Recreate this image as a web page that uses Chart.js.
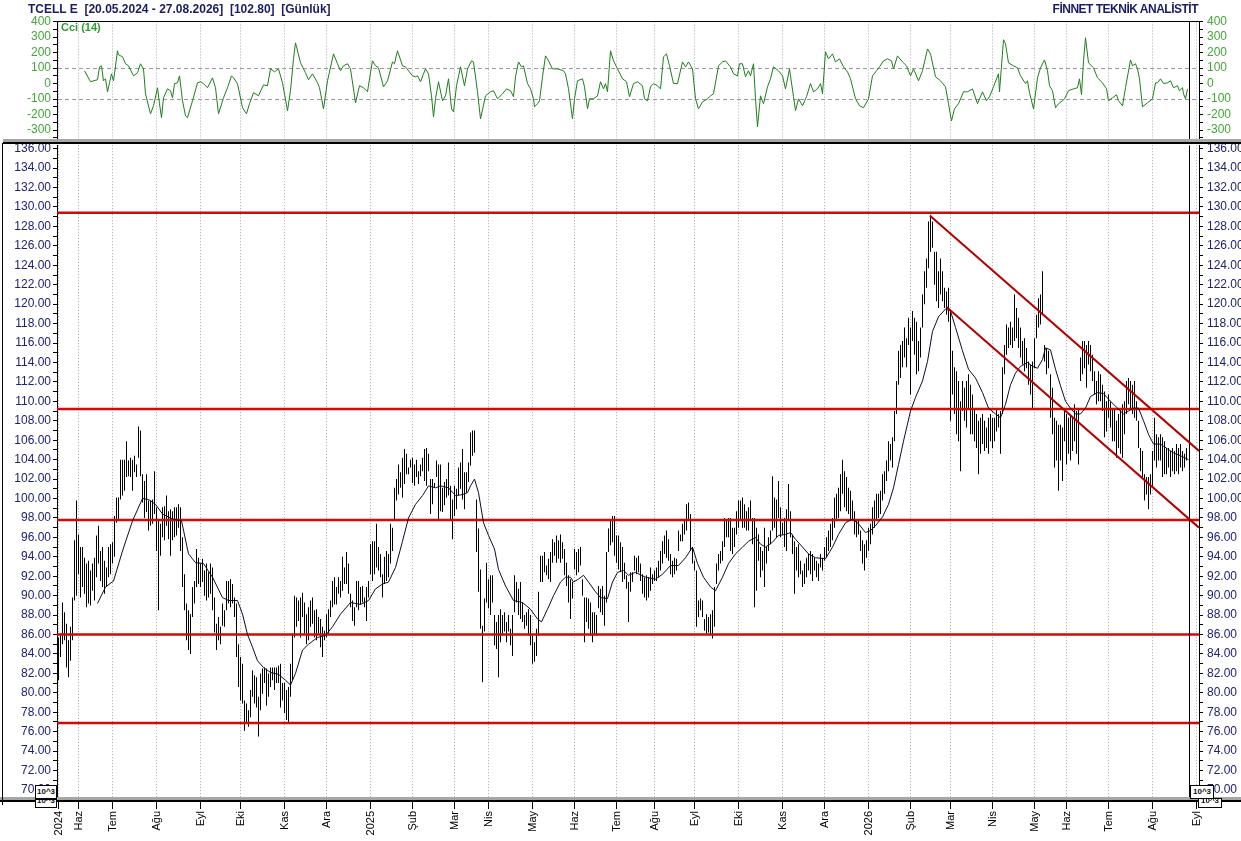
<!DOCTYPE html>
<html lang="tr">
<head>
<meta charset="UTF-8">
<title>TCELL E - Günlük</title>
<script src="https://cdn.jsdelivr.net/npm/chart.js"></script>
<style>
  body { margin: 0; background: #fff; font-family: "Liberation Sans", Arial, sans-serif; }
  #wrap { position: relative; width: 1241px; height: 841px; overflow: hidden; }
  canvas { position: absolute; left: 0; }
  .hdr { position: absolute; top: 2px; font-weight: bold; font-size: 12px; color: #1b1d62; white-space: pre; }
  .ln { position: absolute; }
  .box { position: absolute; border: 1px solid #000; background: #fff; font-size: 8px; font-weight: bold;
         line-height: 11px; text-align: center; overflow: hidden; color: #111; }
</style>
</head>
<body>
<div id="wrap">
  <canvas id="cciChart" width="1241" height="151" style="top:0"></canvas>
  <canvas id="priceChart" width="1241" height="707" style="top:134px"></canvas>

  <div class="hdr" style="left:28px">TCELL E  [20.05.2024 - 27.08.2026]  [102.80]  [Günlük]</div>
  <div class="hdr" style="right:43px;letter-spacing:-0.5px">FİNNET TEKNİK ANALİSTİT</div>
  <div class="hdr" style="left:61px;top:21px;font-size:11px;color:#2f9c2f">Cci (14)</div>

  <div class="ln" style="left:57px;top:21px;width:1142px;height:1px;background:#000"></div>
  <div class="ln" style="left:3px;top:139px;width:1238px;height:3px;background:#a6a6a6"></div>
  <div class="ln" style="left:3px;top:142px;width:1238px;height:2px;background:#000"></div>
  <div class="ln" style="left:0;top:797px;width:1241px;height:3px;background:#a6a6a6"></div>
  <div class="ln" style="left:0;top:800px;width:1241px;height:2px;background:#000"></div>
  <div class="ln" style="left:2px;top:143px;width:1px;height:662px;background:#000"></div>

  <div class="box" style="left:35px;top:785px;width:20px;height:12px">10^3</div>
  <div class="box" style="left:35px;top:799px;width:20px;height:7px;line-height:2px">10^3</div>
  <div class="box" style="left:1190px;top:785px;width:22px;height:12px">10^3</div>
  <div class="box" style="left:1198px;top:798px;width:22px;height:8px;line-height:3px">10^3</div>
</div>

<script>
  // month ticks (trading-day index) and their labels
  const monthTicks = [0, 10, 27, 49, 71, 91, 113, 134, 156, 177, 198, 215, 237, 258, 279, 298, 318, 340, 362, 383,
                      405, 426, 446, 467, 488, 504, 525, 547, 569];
  const monthLabels = ['2024', 'Haz', 'Tem', 'Ağu', 'Eyl', 'Eki', 'Kas', 'Ara', '2025', 'Şub', 'Mar', 'Nis', 'May',
                       'Haz', 'Tem', 'Ağu', 'Eyl', 'Eki', 'Kas', 'Ara', '2026', 'Şub', 'Mar', 'Nis', 'May', 'Haz',
                       'Tem', 'Ağu', 'Eyl'];

  // daily highs / lows, one per trading day
  const highs = [
    85.7,86.1,89.3,88.3,87.1,85.4,86.8,89.8,95.7,99.8, 96.3,95.0,95.0,93.9,93.3,93.6,92.6,93.3,93.9,96.2,
    97.2,94.6,95.0,93.6,92.9,95.0,95.3,95.5,98.2,100.1, 100.1,104.0,104.0,104.0,105.9,103.9,104.2,104.0,104.4,103.5,
    107.4,107.0,102.5,101.8,102.5,99.8,99.8,99.9,102.8,99.1, 97.7,97.4,99.1,99.2,100.3,98.7,98.9,98.7,99.1,99.1,
    99.4,99.1,96.0,92.2,89.2,88.5,88.1,90.9,91.5,94.8, 93.9,93.3,93.8,92.6,93.3,92.4,93.3,92.9,89.8,87.1,
    87.8,86.8,89.2,88.5,91.5,91.5,91.7,91.2,89.8,89.2, 85.0,83.7,83.0,79.2,78.9,78.2,80.3,82.3,
    81.8,81.6,79.6,82.0,82.5,82.6,82.5,82.0,82.6,82.6, 82.6,82.6,82.8,83.0,81.0,81.0,80.3,80.6,83.0,86.1,
    90.0,89.8,89.5,89.8,90.3,89.3,88.1,88.8,89.5,89.8, 88.5,88.6,87.8,87.6,86.8,86.4,88.1,88.6,89.5,91.5,
    91.9,90.9,91.9,91.5,94.0,92.9,94.5,93.3,90.2,89.5, 88.8,91.5,91.5,90.9,91.0,89.8,90.9,91.5,95.3,95.6,
    95.6,97.4,95.0,94.3,92.2,94.0,94.6,94.3,97.4,97.0, 101.1,102.0,103.5,102.7,104.2,105.1,104.6,103.2,104.0,104.2,
    103.5,104.0,102.8,103.5,104.2,105.1,105.2,104.6,102.0,102.0, 101.6,103.9,103.5,103.5,101.1,
    101.7,102.0,103.7,101.3,99.9,101.3,101.0,103.2,103.7,105.1, 102.7,102.7,103.7,106.8,107.0,107.0,99.9,96.9,92.7,86.9,
    89.7,93.4,91.7,92.1,92.1,88.0,87.3,88.0,88.6,88.0, 88.3,87.3,88.0,86.6,88.0,92.1,91.4,90.7,91.4,89.3,
    88.0,88.3,88.6,88.0,85.9,85.2,86.6,90.4,94.1,94.1, 94.5,93.1,93.8,94.5,95.8,95.5,96.2,95.7,96.3,95.5,
    94.8,93.4,92.1,91.7,91.4,94.8,94.5,94.8,95.0,91.7, 89.8,89.8,89.7,89.3,88.3,88.3,88.0,91.0,90.7,91.0,
    90.0,94.5,96.9,97.9,98.2,98.2,96.2,96.2,95.5,95.0, 93.4,92.1,91.4,92.4,92.4,
    94.1,93.9,94.1,93.3,92.2,91.9,92.1,91.9,92.9,92.2, 92.6,92.9,93.6,94.6,95.6,96.2,96.7,95.8,94.3,93.6,
    93.9,93.8,96.7,96.3,97.4,97.7,99.4,99.6,98.4,95.0, 93.6,92.6,89.5,89.7,89.5,87.6,88.1,87.8,88.1,88.5,
    90.9,93.3,94.3,94.6,95.6,98.0,97.7,98.0,98.0,97.0, 97.0,98.7,99.8,99.8,100.1,99.4,98.7,99.1,99.8,98.0,
    98.0,97.0,96.3,95.0,94.6,97.0,95.0,96.0,96.7,102.3, 100.1,99.9,101.8,99.1,97.5,98.0,98.9,101.5,98.7,96.3,
    95.6,95.0,95.3,93.6,92.6,93.3,93.9,94.3,94.6,94.3, 93.9,93.6,93.3,94.3,93.9,
    95.0,96.0,96.7,97.4,98.0,100.1,100.5,101.1,102.5,104.0, 102.8,102.2,101.1,100.8,99.8,98.7,97.7,97.7,96.7,95.7,
    95.3,95.7,97.0,97.4,99.1,99.8,100.5,100.5,100.8,102.5, 102.8,103.9,105.9,105.6,106.3,109.0,112.1,115.2,115.8,116.2,
    117.6,116.5,118.6,117.6,119.3,118.6,118.2,116.2,117.6,121.0, 123.4,124.7,128.5,129.2,128.5,125.4,125.4,123.4,124.7,123.4,
    121.7,121.3,121.7,119.3,115.2,113.5,113.1,112.1,110.0,112.1, 111.4,112.1,112.8,111.7,110.7,109.3,108.7,108.0,108.3,108.7,
    108.0,107.3,108.3,108.7,108.3,108.3,109.3,108.7,109.0,113.5, 115.8,117.9,117.6,118.2,117.6,
    121.0,119.6,118.6,117.6,116.2,116.5,115.5,114.1,113.8,114.1, 116.5,118.9,120.6,121.0,123.4,115.8,115.5,115.2,112.8,111.4,
    108.3,108.0,107.6,107.6,107.3,109.0,108.7,108.3,108.7,108.3, 109.7,109.0,109.3,114.5,116.2,116.2,115.8,116.2,115.8,114.8,
    113.1,112.1,113.1,112.8,111.7,111.0,110.0,110.7,110.0,109.3, 109.3,108.0,108.7,109.3,109.7,110.0,112.1,112.4,112.1,111.7,
    112.1,110.0,108.0,105.2,104.9,102.5,102.2,102.2,102.5,104.9, 108.3,106.6,106.3,106.6,106.3,105.9,105.2,105.2,104.9,105.2,
    104.9,105.6,105.2,105.6,104.9,104.6,105.2
  ];
  const lows = [
    81.3,83.7,85.0,85.4,82.6,81.6,83.3,85.4,89.5,90.0, 92.2,89.8,90.9,90.2,88.8,89.2,89.0,90.5,89.5,91.9,
    93.3,91.5,90.9,90.2,90.9,91.9,92.2,93.3,94.0,97.5, 97.7,99.9,100.3,100.8,102.2,102.3,102.2,100.8,102.7,102.2,
    104.2,102.3,99.6,98.0,98.6,96.7,97.2,97.4,98.4,94.6, 88.5,94.1,96.0,95.7,97.2,95.8,94.1,95.7,96.0,96.2,
    97.0,94.6,90.9,88.5,85.4,84.4,84.0,87.8,89.2,90.9, 91.2,90.9,91.4,90.0,89.5,89.8,90.2,88.5,86.2,84.4,
    85.4,85.0,86.9,86.8,88.5,89.2,88.8,89.2,87.8,83.7, 80.6,79.2,78.9,76.1,76.8,76.5,77.5,79.6,
    78.9,78.5,75.5,78.2,79.9,81.0,78.7,79.6,80.6,81.3, 80.3,81.0,81.0,78.5,79.2,77.9,77.2,76.8,79.6,81.3,
    85.7,86.8,87.4,85.7,87.8,86.1,85.0,85.4,86.8,87.1, 85.7,85.4,86.1,84.7,83.7,85.4,85.7,86.1,87.8,88.8,
    89.1,89.1,90.2,89.8,90.5,91.2,91.2,90.2,88.8,87.4, 86.9,88.8,88.5,89.1,89.3,88.8,87.4,89.8,92.2,91.5,
    92.2,92.9,92.6,91.9,89.8,91.2,91.5,91.9,93.3,94.6, 97.7,99.8,100.4,101.1,100.1,101.5,102.5,102.5,103.2,101.6,
    101.3,102.2,101.5,102.3,102.8,101.8,101.3,102.8,98.4,99.4, 101.1,102.2,97.9,98.7,98.6,
    99.3,100.1,100.3,97.9,95.8,98.2,98.9,100.3,101.0,99.9, 98.9,100.6,101.7,103.4,104.4,104.7,94.5,90.4,86.6,81.1,
    86.3,89.3,88.7,88.0,89.3,84.9,84.5,81.6,85.2,85.9, 86.3,85.2,86.3,84.9,83.8,88.3,89.3,88.0,87.6,87.3,
    86.6,86.9,85.9,84.9,83.0,83.2,83.8,85.9,91.4,91.4, 92.4,92.1,91.7,91.4,93.4,94.1,93.4,93.8,93.4,93.8,
    92.1,91.0,89.3,87.6,89.7,92.7,92.1,92.4,93.1,90.0, 85.2,87.3,86.6,85.9,85.2,85.9,85.9,88.7,88.3,88.0,
    86.9,89.3,94.5,95.2,95.5,94.1,93.4,92.7,92.4,91.4, 91.7,90.7,87.3,90.4,91.4,
    92.6,92.2,92.4,91.5,90.2,89.8,89.5,89.8,90.5,91.2, 91.5,91.5,91.9,92.6,93.3,94.3,93.9,93.6,92.2,91.9,
    92.2,92.6,94.6,95.6,95.6,96.3,96.7,97.7,94.6,93.3, 92.6,86.8,87.8,88.5,87.8,86.4,86.1,86.2,85.9,85.6,
    86.8,91.2,92.6,93.3,93.6,95.0,96.0,96.0,94.6,94.3, 95.0,96.3,97.0,97.7,97.0,97.0,96.7,96.7,97.7,95.3,
    88.8,90.5,93.6,91.9,92.6,90.9,93.3,94.6,95.3,96.7, 97.0,96.0,98.0,96.0,96.3,95.0,94.6,97.7,96.0,94.3,
    90.2,92.6,91.9,92.2,90.9,91.2,91.9,92.6,92.2,91.5, 92.6,91.9,91.5,92.9,92.6,
    93.6,93.9,94.6,95.0,95.7,97.0,97.7,98.0,98.7,100.5, 99.1,98.7,98.4,97.7,97.7,96.3,96.0,96.3,94.6,93.3,
    92.6,93.9,94.6,95.3,96.3,97.0,97.7,98.0,98.4,99.8, 100.5,101.8,102.8,103.9,103.2,105.9,108.7,111.7,112.4,113.5,
    114.5,113.5,115.8,110.7,116.2,114.8,112.8,113.1,114.5,117.6, 120.0,121.7,123.7,125.4,125.8,122.0,120.3,119.6,121.0,120.3,
    119.6,118.9,118.2,108.0,110.7,108.7,106.6,105.9,102.8,109.0, 108.0,107.3,109.3,106.6,106.6,105.9,105.2,102.5,104.6,105.6,
    104.9,105.2,104.6,105.9,105.2,105.9,106.9,107.3,104.6,108.7, 112.8,114.8,115.5,115.8,115.5,
    116.2,116.5,115.5,114.5,113.8,113.1,113.4,111.7,110.7,109.3, 113.4,116.5,117.6,117.9,118.9,114.1,112.8,113.4,108.3,106.6,
    103.2,103.9,100.8,103.9,101.8,105.9,103.5,104.6,103.9,104.9, 105.9,104.6,103.5,112.1,112.8,113.4,111.4,113.8,113.1,112.1,
    110.7,109.7,110.0,110.0,109.0,106.3,106.9,108.3,107.3,105.9, 105.9,104.2,105.2,104.6,104.2,106.6,108.7,109.7,109.3,108.7,
    108.3,108.0,105.2,102.8,102.2,99.8,100.4,98.9,100.4,101.1, 103.9,103.2,103.9,103.9,102.2,102.5,102.5,103.2,102.2,102.8,
    102.5,102.8,102.5,103.2,102.8,103.2,103.9
  ];

  // moving average, [day index, price]
  const maPoints = [
    [19.5,89.2],[23.5,90.9],[27.5,91.5],[32,94.6],[37,97.7],[42,100.0],[45,99.9],[48.5,99.4],[52,98.4],[57,97.9],
    [61.5,97.7],[65,94.3],[68.5,93.4],[72.5,93.3],[77,91.9],[82,89.8],[85,89.5],[89.5,89.5],[92,88.1],[94.5,86.0],
    [97,84.7],[99.5,83.3],[102.5,82.6],[106,82.1],[110,81.9],[113.5,81.3],[116,80.8],[118.5,82.0],[122,84.4],[125,85.0],
    [129.5,85.7],[133.5,85.9],[137,86.8],[141,88.1],[146,89.3],[151,89.1],[155,89.5],[158.5,90.7],[162,91.2],[165,91.4],
    [168.5,92.9],[172,95.6],[175,98.0],[178.5,99.4],[182,100.3],[185,101.3],[188.5,101.1],[191,101.3],[195,101.1],[198.5,100.3],
    [202,100.4],[204.5,100.6],[206,101.3],[208,102.0],[210,100.6],[212.5,97.5],[215,96.2],[218,94.8],[220,92.7],[223.5,91.0],
    [227.5,89.5],[232,89.3],[236,88.6],[239.5,87.6],[241.5,87.3],[244.5,88.6],[247.5,90.0],[251,91.4],[253.5,91.9],[256,91.9],
    [257.5,91.4],[260,91.7],[262.5,92.1],[265,91.4],[268.5,90.4],[271,89.8],[274.5,89.7],[277,91.4],[279.5,92.4],[282.5,92.6],
    [285,92.1],[288.5,92.4],[293.5,91.9],[298.5,91.7],[302,92.2],[306,93.1],[310,93.1],[313.5,93.9],[317,95.0],[319.5,93.3],
    [322.5,91.9],[326,90.9],[328.5,90.5],[332,91.9],[335,93.3],[338.5,94.3],[342,95.0],[345,95.6],[348.5,96.0],[351,95.3],
    [353.5,95.0],[357,95.5],[360,96.2],[363.5,96.3],[366,96.5],[368.5,95.8],[372,95.0],[375,94.3],[378.5,93.9],[383.5,93.8],
    [387,95.0],[390,96.3],[393.5,97.5],[397,97.9],[400,97.4],[403.5,96.5],[406,96.7],[408.5,97.2],[412,98.1],[415,99.4],
    [417.5,101.1],[420,103.5],[422.5,105.9],[426,109.0],[428.5,110.4],[432,112.1],[434.5,114.1],[437,117.2],[440,118.7],[443.5,119.5],
    [446,119.3],[448.5,117.6],[452,115.2],[455,113.3],[458.5,112.4],[462,110.9],[465,109.3],[468.5,108.7],[471,108.3],[473.5,109.7],
    [476,111.7],[478.5,112.9],[481,113.6],[484.5,114.0],[487,113.6],[489.5,113.4],[492,114.3],[493.5,115.5],[496,115.3],[498.5,113.3],
    [501,111.6],[503.5,110.0],[506,109.3],[508.5,108.7],[511,108.7],[513.5,109.3],[516,110.5],[519.5,110.9],[522.5,110.8],[526,110.0],
    [529.5,109.3],[532.5,108.7],[535,109.0],[537.5,109.3],[540,109.3],[542.5,108.0],[545,106.6],[547.5,105.6],[551,105.6],[554.5,105.1],
    [557.5,104.7],[561,104.4],[565,104.0]
  ];

  // CCI(14), [day index, value]
  const cciPoints = [
    [13,83],[16,12],[19.5,25],[20.5,108],[21.5,115],[22.5,18],[23.5,31],[24.5,-53],[25.5,5],[26.5,63],[27.5,18],[28,63],
    [29.5,212],[30,186],[32,173],[33.5,128],[35,115],[37.5,50],[39.5,70],[41,128],[42.5,95],[43.5,-66],[46,-195],[47.5,-143],
    [49.5,-27],[50.5,-130],[51.5,-220],[52.5,-92],[54.5,-34],[56,-46],[57,-92],[58,0],[59.5,5],[60.5,50],[62,-111],[63.5,-208],
    [64.5,-220],[67,-111],[69.5,5],[71,12],[72.5,0],[74.5,-27],[77,37],[78.5,-27],[80,-195],[82.5,-92],[84.5,-27],[86.5,50],
    [87.5,37],[89.5,0],[92,-156],[94,-195],[95.5,-130],[97.5,-59],[100,-79],[102.5,-8],[104.5,-14],[106,95],[108,76],[110,95],
    [112,5],[114.5,-175],[116,-46],[117.5,160],[118.5,263],[121,134],[123.5,70],[125,25],[127,63],[129.5,5],[130.5,-27],[132.5,-163],
    [134.5,18],[137.5,192],[139.5,128],[141,83],[142.5,115],[144.5,128],[146,95],[148.5,-124],[150.5,-14],[152.5,-27],[154.5,-53],[155.5,31],
    [157,147],[158.5,115],[160,102],[162.5,-21],[164.5,18],[167,140],[168,128],[169.5,212],[172,115],[173.5,108],[175,83],[177,50],
    [178.5,44],[179.5,50],[181,12],[182.5,63],[183.5,95],[185,63],[186.5,-79],[187.5,-215],[188.5,-98],[190,12],[192,-111],[193.5,-79],
    [195,31],[196.5,-163],[197.5,-182],[199,-14],[201,108],[203,-14],[204.5,95],[206.5,147],[207.5,140],[209.5,-53],[211,-228],[213.5,-79],
    [216,-53],[217.5,-46],[219.5,-98],[222,-66],[224,-34],[226,-46],[227.5,-85],[228.5,44],[230,140],[231.5,108],[232.5,115],[234.5,0],
    [236,-34],[237.5,-98],[238,-150],[239.5,-130],[240.5,-111],[242,44],[243.5,179],[244.5,160],[247,95],[249.5,95],[252.5,83],[253.5,63],
    [255,-34],[257,-228],[258,-98],[259.5,18],[262,31],[263,-21],[264.5,-163],[265.5,-98],[267.5,-98],[269.5,-79],[271,12],[272.5,-34],
    [273.5,0],[274.5,-53],[276,212],[277.5,147],[279.5,95],[282,31],[284,12],[285.5,-85],[287.5,0],[289.5,12],[292,-14],[293,-98],
    [294.5,-111],[296,-21],[297.5,0],[299.5,-14],[301,-34],[302.5,173],[304,192],[305.5,115],[307.5,0],[309.5,0],[312,140],[313.5,108],
    [315,140],[317,95],[318.5,-98],[320,-163],[322,-118],[324.5,-98],[326,-79],[327.5,-66],[330,115],[332,140],[333.5,147],[336,108],
    [337.5,63],[339.5,50],[340.5,128],[342,128],[343.5,44],[345,83],[346,50],[347.5,128],[348.5,-98],[349.5,-279],[351,-79],[352.5,-130],
    [354.5,-21],[356,31],[357.5,108],[360,83],[362,50],[363.5,-34],[365.5,95],[367.5,-85],[368.5,-175],[370,-98],[372,-143],[374,-85],
    [376,0],[377.5,-53],[379.5,-34],[381,0],[382,-66],[383.5,205],[385,160],[387,192],[388.5,140],[390.5,160],[392.5,108],[394.5,76],
    [396,31],[398.5,-98],[400.5,-143],[402.5,-156],[405,-98],[407,50],[409,83],[410.5,108],[412.5,147],[414.5,160],[416.5,147],[417.5,95],
    [419.5,179],[422,140],[424,115],[426,50],[427.5,95],[430,18],[432,83],[434.5,224],[436,192],[438.5,44],[441,18],[443.5,-21],
    [445,-130],[446.5,-240],[448,-163],[450,-130],[452.5,-53],[454.5,-53],[457,-34],[459.5,-130],[462,-53],[464,-111],[465.5,-85],[467.5,-21],
    [470,63],[470.5,-53],[472.5,283],[473.5,257],[475,134],[477.5,115],[479.5,102],[481,50],[483.5,0],[484.5,18],[485.5,-59],[487.5,-163],
    [489.5,37],[491,102],[493,153],[494.5,83],[495.5,-14],[497,-46],[498.5,-156],[500,-130],[502,-111],[503,-98],[505,-46],[507.5,-34],
    [509.5,-27],[510.5,31],[511.5,-72],[512.5,147],[513.5,296],[515,134],[517.5,102],[519.5,37],[522,5],[524,-34],[525,-111],[527,-92],
    [529,-72],[530,-111],[532,-143],[533.5,-27],[536,153],[537,115],[538.5,128],[539.5,95],[540.5,31],[542,-150],[544.5,-124],[547,-98],
    [548.5,5],[549.5,5],[551,31],[552.5,0],[554.5,5],[556,18],[557.5,-27],[559.5,-14],[560.5,-46],[562,-27],[562.5,-66],[563.5,-98],
    [564.5,-34]
  ];

  // support / resistance levels and the falling channel
  const levels = [129.4, 109.2, 97.8, 86.0, 76.9];
  const channelUpper = [[435.75, 129.1], [570.25, 104.9]];
  const channelLower = [[444, 119.7], [570.25, 97.0]];
  const lastBarMark = 565.5;

  const xMin = -0.75, xMax = 570.25;
  const priceMin = 69.28, priceMax = 136.36;
  const cciMin = -363, cciMax = 401;

  Chart.defaults.font.family = '"Liberation Sans", Arial, sans-serif';
  Chart.defaults.font.size = 12;

  const navy = '#1f2273';
  const lblGreen = '#43a636';

  const toXY = p => ({ x: p[0], y: p[1] });
  const monthAxis = {
    type: 'linear', min: xMin, max: xMax, offset: false,
    afterBuildTicks: s => { s.ticks = monthTicks.map(v => ({ value: v })); },
    grid: { color: '#a8a8a8', lineWidth: 1, tickColor: '#000', offset: false },
    border: { display: false, dash: [1, 2] }
  };

  function priceAxis(side, width, pad) {
    return {
      position: side, min: priceMin, max: priceMax,
      afterBuildTicks: s => {
        const t = [];
        for (let v = 70; v <= 136; v++) t.push({ value: v });
        s.ticks = t;
      },
      afterFit: s => { s.width = width; },
      ticks: { autoSkip: false, color: navy, padding: pad, callback: v => (v % 2 === 0 ? v.toFixed(2) : '') },
      grid: { drawOnChartArea: false, drawTicks: true, tickLength: 4, tickColor: '#000' },
      border: { display: true, color: '#000', width: 1 }
    };
  }

  function cciAxis(side, width, drawGrid, pad) {
    return {
      position: side, min: cciMin, max: cciMax,
      afterBuildTicks: s => {
        const t = [];
        for (let v = -350; v <= 400; v += 50) t.push({ value: v });
        s.ticks = t;
      },
      afterFit: s => { s.width = width; },
      ticks: { autoSkip: false, color: lblGreen, padding: pad, callback: v => (v % 100 === 0 ? String(v) : '') },
      grid: {
        drawOnChartArea: drawGrid, drawTicks: true, tickLength: 4, tickColor: '#000',
        color: c => (c.tick && Math.abs(c.tick.value) === 100 ? '#9a9a9a' : 'rgba(0,0,0,0)')
      },
      border: { display: true, color: '#000', width: 1, dash: [4, 3] }
    };
  }

  // ---- CCI panel ----
  new Chart(document.getElementById('cciChart'), {
    type: 'line',
    data: {
      datasets: [
        { data: cciPoints.map(toXY), borderColor: '#1f7d1f', borderWidth: 1, pointRadius: 0, tension: 0, yAxisID: 'y' },
        { data: [{ x: lastBarMark, y: cciMin }, { x: lastBarMark, y: cciMax }], borderColor: '#000', borderWidth: 1,
          pointRadius: 0, yAxisID: 'y' }
      ]
    },
    options: {
      responsive: false, animation: false, devicePixelRatio: 1, events: [],
      layout: { padding: { top: 21.5, bottom: 0, left: 0, right: 0 } },
      plugins: { legend: { display: false }, tooltip: { enabled: false } },
      scales: {
        x: Object.assign({}, monthAxis, {
          afterFit: s => { s.height = 0; },
          ticks: { display: false },
          grid: { color: '#a8a8a8', lineWidth: 1, drawTicks: false, offset: false }
        }),
        y: cciAxis('left', 57, true, 2),
        y1: cciAxis('right', 42, false, 4)
      }
    }
  });

  // ---- price panel ----
  const bars = highs.map((h, i) => ({ x: i, y: [lows[i], h] }));
  const lineSet = (pts, color, width, order) => ({
    type: 'line', data: pts, borderColor: color, borderWidth: width, pointRadius: 0, tension: 0,
    yAxisID: 'y', order: order
  });

  const datasets = [
    { type: 'bar', data: bars, backgroundColor: '#000', borderWidth: 0, barThickness: 1, inflateAmount: 0,
      yAxisID: 'y', order: 10 },
    lineSet(maPoints.map(toXY), '#0d0d26', 1, 1)
  ];
  levels.forEach(v => datasets.push(lineSet([{ x: xMin, y: v }, { x: xMax, y: v }], '#d20a0a', 2.5, 3)));
  datasets.push(lineSet(channelUpper.map(toXY), '#b50000', 2, 0));
  datasets.push(lineSet(channelLower.map(toXY), '#b50000', 2, 0));
  datasets.push(lineSet([{ x: lastBarMark, y: priceMin }, { x: lastBarMark, y: priceMax }], '#000', 1, 0));

  new Chart(document.getElementById('priceChart'), {
    type: 'bar',
    data: { datasets: datasets },
    options: {
      responsive: false, animation: false, devicePixelRatio: 1, events: [],
      layout: { padding: { top: 0, bottom: 0, left: 0, right: 0 } },
      plugins: { legend: { display: false }, tooltip: { enabled: false } },
      scales: {
        x: Object.assign({}, monthAxis, {
          afterFit: s => { s.height = 44; },
          ticks: {
            autoSkip: false, minRotation: 90, maxRotation: 90, padding: 2, color: '#000', font: { size: 11 },
            callback: (v, i) => monthLabels[i]
          },
          grid: { color: '#a8a8a8', lineWidth: 1, tickColor: '#000', drawTicks: true, tickLength: 12, offset: false }
        }),
        y: priceAxis('left', 57, 2),
        y2: priceAxis('right', 42, 4)
      }
    }
  });
</script>
</body>
</html>
